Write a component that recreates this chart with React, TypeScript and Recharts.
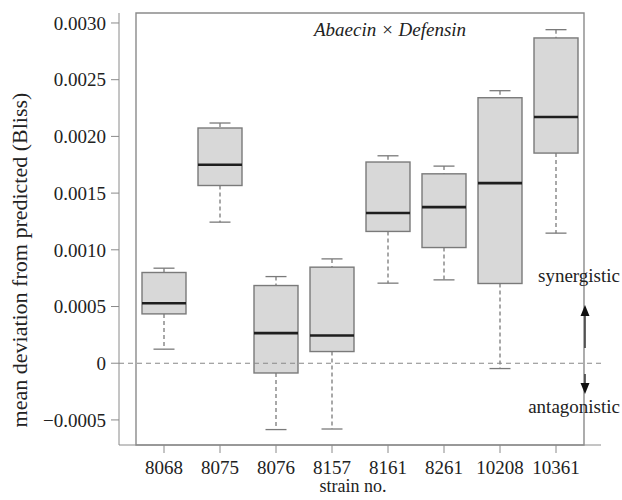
import { ComposedChart, Bar, XAxis, YAxis, ReferenceLine, ReferenceArea } from 'recharts'

const strains = ['8068', '8075', '8076', '8157', '8161', '8261', '10208', '10361']
const whiskerLow = [0.000124, 0.001244, -0.000585, -0.00058, 0.000706, 0.000735, -0.000047, 0.001147]
const q1 = [0.000435, 0.001567, -0.000086, 0.000103, 0.001162, 0.00102, 0.000703, 0.001853]
const median = [0.000529, 0.00175, 0.000265, 0.000244, 0.001324, 0.001376, 0.001588, 0.002171]
const q3 = [0.0008, 0.002074, 0.000685, 0.000847, 0.001774, 0.00167, 0.002341, 0.002868]
const whiskerHigh = [0.000838, 0.002118, 0.000764, 0.00092, 0.001829, 0.001738, 0.002403, 0.002941]
const yTicks = [-0.0005, 0, 0.0005, 0.001, 0.0015, 0.002, 0.0025, 0.003]

const data = strains.map((s, i) => ({
  strain: s,
  lo: whiskerLow[i],
  q1: q1[i],
  med: median[i],
  q3: q3[i],
  hi: whiskerHigh[i],
}))

const FONT = "'Liberation Serif', 'Times New Roman', Times, serif"
const AXIS = '#8a8a8a'
const BOX_STROKE = '#7a7a7a'

function fmtY(v: number) {
  if (v === 0) return '0'
  if (v < 0) return '\u2212' + Math.abs(v).toFixed(4)
  return v.toFixed(4)
}

// box + whiskers, positions derived from the bar rect the library gives us
function BoxShape(props: any) {
  const { x, y, width, height, payload } = props
  const top = Math.min(y, y + height)
  const h = Math.abs(height)
  const per = h / (payload.q3 - payload.q1)
  const py = (v: number) => top + (payload.q3 - v) * per
  const cx = x + width / 2
  const cap = 10.5
  return (
    <g>
      <line x1={cx} x2={cx} y1={py(payload.hi)} y2={top} stroke={BOX_STROKE} strokeWidth={1.3} strokeDasharray="4 3" />
      <line x1={cx - cap} x2={cx + cap} y1={py(payload.hi)} y2={py(payload.hi)} stroke={BOX_STROKE} strokeWidth={1.3} />
      <line x1={cx} x2={cx} y1={top + h} y2={py(payload.lo)} stroke={BOX_STROKE} strokeWidth={1.3} strokeDasharray="4 3" />
      <line x1={cx - cap} x2={cx + cap} y1={py(payload.lo)} y2={py(payload.lo)} stroke={BOX_STROKE} strokeWidth={1.3} />
      <rect x={x} y={top} width={width} height={h} fill="#d8d8d8" stroke={BOX_STROKE} strokeWidth={1.4} />
      <line x1={x} x2={x + width} y1={py(payload.med)} y2={py(payload.med)} stroke="#1e1e1e" strokeWidth={2.6} />
    </g>
  )
}

export default function App() {
  return (
    <div style={{ position: 'relative', width: 622, height: 500, background: '#fff', fontFamily: FONT }}>
      <style>{'body{margin:0}'}</style>
      <ComposedChart width={622} height={500} data={data} margin={{ top: 13, right: 21, bottom: 25, left: 0 }}
        style={{ fontFamily: FONT }}>
        <ReferenceArea y1={-0.000721} y2={0.003088} fill="none" stroke={AXIS} strokeWidth={1.4} ifOverflow="visible" />
        <XAxis dataKey="strain" type="category" padding={{ left: 17, right: 17 }} height={30}
          stroke={AXIS} tickSize={8} tickMargin={8}
          tick={{ fontSize: 19, fontFamily: FONT, fill: '#222' }} interval={0} />
        <YAxis type="number" domain={[-0.000721, 0.003088]} ticks={yTicks} allowDataOverflow width={119}
          stroke={AXIS} tickSize={8} tickMargin={5} tickFormatter={fmtY}
          tick={{ fontSize: 19, fontFamily: FONT, fill: '#222' }} />
        <ReferenceLine y={0} stroke="#888" strokeDasharray="5 4" strokeWidth={1.2} />
        <Bar dataKey={(d: any) => [d.q1, d.q3]} barSize={44} shape={BoxShape} isAnimationActive={false} />
      </ComposedChart>
      <svg width={622} height={500} style={{ position: 'absolute', left: 0, top: 0, pointerEvents: 'none' }}>
        <text x={390} y={36} textAnchor="middle" fontFamily={FONT} fontStyle="italic" fontSize={19} fill="#222">
          Abaecin × Defensin
        </text>
        <text x={620} y={282} textAnchor="end" fontFamily={FONT} fontSize={19} fill="#222">synergistic</text>
        <text x={620} y={413} textAnchor="end" fontFamily={FONT} fontSize={19} fill="#222">antagonistic</text>
        <line x1={585} x2={585} y1={348} y2={313} stroke="#333" strokeWidth={1.5} />
        <polygon points="585,305 580.5,316 589.5,316" fill="#111" />
        <line x1={585} x2={585} y1={374} y2={386} stroke="#333" strokeWidth={1.5} />
        <polygon points="585,394 580.5,383 589.5,383" fill="#111" />
        <text x={353} y={492} textAnchor="middle" fontFamily={FONT} fontSize={18} fill="#222">strain no.</text>
        <text transform="translate(27,260) rotate(-90)" textAnchor="middle" fontFamily={FONT} fontSize={22} fill="#222">
          mean deviation from predicted (Bliss)
        </text>
      </svg>
    </div>
  )
}
